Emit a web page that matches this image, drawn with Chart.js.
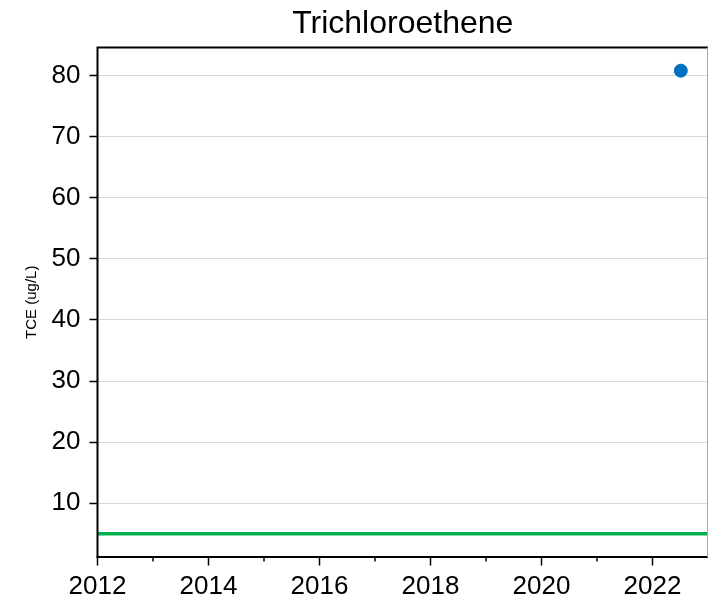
<!DOCTYPE html>
<html>
<head>
<meta charset="utf-8">
<script src="https://cdn.jsdelivr.net/npm/chart.js@4.4.1/dist/chart.umd.min.js"></script>
<style>
  html, body { margin: 0; padding: 0; background: #fff; }
  #wrap { width: 708px; height: 605px; }
</style>
</head>
<body>
<div id="wrap"><canvas id="c" width="708" height="605"></canvas></div>
<script>
// ---- data ----
const chartTitle = 'Trichloroethene';
const yAxisTitle = 'TCE (ug/L)';
const sampleDates = [2022.51];          // decimal year of each sample
const tceValues = [80.8];               // ug/L
const standardX = [2012, 2023];         // MCL line extent (decimal years)
const standardY = [5, 5];               // ug/L
const yTickValues = [10, 20, 30, 40, 50, 60, 70, 80];
const xTickYears = [2012, 2013, 2014, 2015, 2016, 2017, 2018, 2019, 2020, 2021, 2022, 2023];
const xMajorLabels = [2012, 2014, 2016, 2018, 2020, 2022];
const xRange = [2012, 2023];
const yRange = [1.21, 84.59];

const FONT = "'Liberation Sans', Arial, sans-serif";

const framePlugin = {
  id: 'frame',
  afterDraw(chart) {
    const ctx = chart.ctx;
    const a = chart.chartArea;
    const xs = chart.scales.x;
    ctx.save();
    // x ticks: major (labelled years) and minor
    ctx.strokeStyle = '#000';
    ctx.lineWidth = 1.5;
    xTickYears.forEach(v => {
      const px = xs.getPixelForValue(v);
      if (px < a.left - 1 || px > a.right - 1) return;
      const len = xMajorLabels.includes(v) ? 8.5 : 4.5;
      ctx.beginPath();
      ctx.moveTo(px, a.bottom);
      ctx.lineTo(px, a.bottom + len);
      ctx.stroke();
    });
    // frame
    ctx.lineWidth = 2;
    ctx.strokeStyle = '#000';
    ctx.beginPath();
    ctx.moveTo(a.left, a.bottom);
    ctx.lineTo(a.left, a.top);
    ctx.lineTo(a.right, a.top);
    ctx.stroke();
    ctx.beginPath();
    ctx.moveTo(a.left - 1, a.bottom);
    ctx.lineTo(a.right, a.bottom);
    ctx.stroke();
    ctx.strokeStyle = '#aaa';
    ctx.lineWidth = 1;
    ctx.beginPath();
    ctx.moveTo(a.right - 0.5, a.top);
    ctx.lineTo(a.right - 0.5, a.bottom);
    ctx.stroke();
    // title centred over plot area
    ctx.fillStyle = '#000';
    ctx.font = '32px ' + FONT;
    ctx.textAlign = 'center';
    ctx.textBaseline = 'alphabetic';
    ctx.fillText(chartTitle, (a.left + a.right) / 2, 33);
    ctx.restore();
  }
};

new Chart(document.getElementById('c'), {
  type: 'scatter',
  data: {
    datasets: [
      {
        label: 'MCL',
        type: 'line',
        data: standardX.map((x, i) => ({ x, y: standardY[i] })),
        borderColor: '#00b050',
        borderWidth: 3.5,
        pointRadius: 0,
        fill: false
      },
      {
        label: 'TCE',
        data: sampleDates.map((x, i) => ({ x, y: tceValues[i] })),
        backgroundColor: '#0070c0',
        borderColor: '#0070c0',
        pointRadius: 6.5,
        pointHoverRadius: 6.5
      }
    ]
  },
  options: {
    responsive: false,
    animation: false,
    devicePixelRatio: 1,
    layout: { autoPadding: false, padding: { top: 47.5, right: 0, left: 0, bottom: 0 } },
    plugins: { legend: { display: false }, tooltip: { enabled: false }, title: { display: false } },
    scales: {
      x: {
        type: 'linear',
        min: xRange[0],
        max: xRange[1],
        afterBuildTicks: s => { s.ticks = xTickYears.map(v => ({ value: v })); },
        afterFit: s => { s.height = 48; s.paddingLeft = 0; s.paddingRight = 0; },
        grid: { display: false, drawTicks: false },
        border: { display: false },
        ticks: {
          autoSkip: false,
          maxRotation: 0,
          padding: 14,
          color: '#000',
          font: { family: FONT, size: 26 },
          callback: v => (xMajorLabels.includes(v) ? String(v) : '')
        }
      },
      y: {
        type: 'linear',
        min: yRange[0],
        max: yRange[1],
        afterBuildTicks: s => { s.ticks = yTickValues.map(v => ({ value: v })); },
        afterFit: s => { s.width = 97.5; s.paddingTop = 0; s.paddingBottom = 0; },
        grid: { color: '#d9d9d9', lineWidth: 1, tickColor: '#000', tickLength: 8, tickWidth: 1.5 },
        border: { display: false },
        ticks: {
          padding: 9,
          color: '#000',
          font: { family: FONT, size: 26 }
        },
        title: {
          display: true,
          text: yAxisTitle,
          color: '#000',
          font: { family: FONT, size: 15 },
          padding: { top: 23, bottom: 0 }
        }
      }
    }
  },
  plugins: [framePlugin]
});
</script>
</body>
</html>
